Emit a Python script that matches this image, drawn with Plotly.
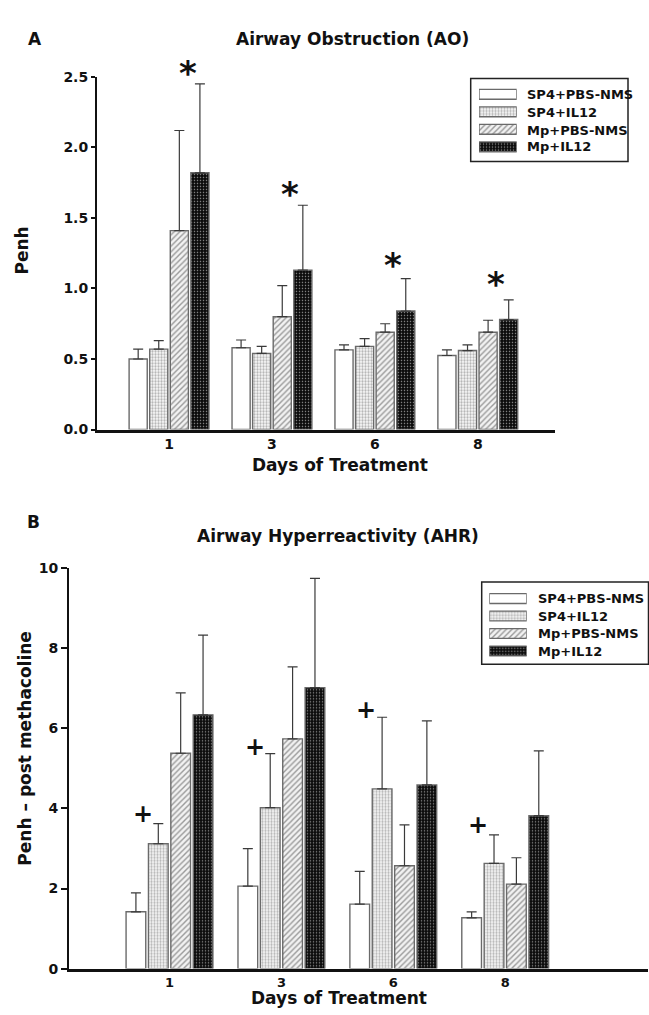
import plotly.graph_objects as go

# ---------------- data ----------------
days = ["1", "3", "6", "8"]
series = ["SP4+PBS-NMS", "SP4+IL12", "Mp+PBS-NMS", "Mp+IL12"]

# Panel A: Airway Obstruction (Penh)
ao_sp4_pbs = [0.50, 0.58, 0.565, 0.525]
ao_sp4_il12 = [0.57, 0.54, 0.59, 0.56]
ao_mp_pbs = [1.41, 0.80, 0.69, 0.69]
ao_mp_il12 = [1.82, 1.13, 0.84, 0.78]
ao_sp4_pbs_err = [0.07, 0.055, 0.035, 0.04]
ao_sp4_il12_err = [0.06, 0.05, 0.055, 0.04]
ao_mp_pbs_err = [0.71, 0.22, 0.06, 0.085]
ao_mp_il12_err = [0.63, 0.46, 0.23, 0.14]

# Panel B: Airway Hyperreactivity (Penh - post methacoline)
ahr_sp4_pbs = [1.42, 2.06, 1.61, 1.27]
ahr_sp4_il12 = [3.12, 4.02, 4.49, 2.63]
ahr_mp_pbs = [5.38, 5.74, 2.57, 2.11]
ahr_mp_il12 = [6.34, 7.02, 4.59, 3.82]
ahr_sp4_pbs_err = [0.47, 0.94, 0.82, 0.15]
ahr_sp4_il12_err = [0.50, 1.35, 1.79, 0.71]
ahr_mp_pbs_err = [1.51, 1.80, 1.02, 0.66]
ahr_mp_il12_err = [1.99, 2.73, 1.60, 1.62]

# significance markers (heights in data units)
ao_star_y = [2.55, 1.69, 1.19, 1.05]
ahr_plus_y = [3.88, 5.57, 6.48, 3.61]

# ---------------- styles ----------------
FONT = "DejaVu Sans"
W, H = 649, 1015
styles = [
    dict(color="white", pattern=dict(shape="")),
    dict(color="white", pattern=dict(shape=".", fgcolor="#b4b4b4", bgcolor="#fafafa",
                                     size=3, solidity=0.45, fillmode="replace")),
    dict(color="#eeeeee", pattern=dict(shape="/", fgcolor="#9a9a9a", bgcolor="#f2f2f2",
                                       size=4, solidity=0.35, fillmode="replace")),
    dict(color="#111111", pattern=dict(shape=".", fgcolor="#8a8a8a", bgcolor="#0c0c0c",
                                       size=3, solidity=0.2, fillmode="replace")),
]
OUTLINE = dict(color="#6a6a6a", width=1.4)

def px_x(p):
    return p / W

def px_y(p):
    return 1 - p / H

A_YDOM = [px_y(428.3), px_y(70)]
A_YRANGE = [0, 2.5]

def a_paper_y(v):
    return A_YDOM[0] + (v - A_YRANGE[0]) / (A_YRANGE[1] - A_YRANGE[0]) * (A_YDOM[1] - A_YDOM[0])

fig = go.Figure()

xs = list(range(len(days)))
panelA = [ao_sp4_pbs, ao_sp4_il12, ao_mp_pbs, ao_mp_il12]
panelA_err = [ao_sp4_pbs_err, ao_sp4_il12_err, ao_mp_pbs_err, ao_mp_il12_err]
panelB = [ahr_sp4_pbs, ahr_sp4_il12, ahr_mp_pbs, ahr_mp_il12]
panelB_err = [ahr_sp4_pbs_err, ahr_sp4_il12_err, ahr_mp_pbs_err, ahr_mp_il12_err]

for i, name in enumerate(series):
    st = styles[i]
    for vals, errs, xa, ya in ((panelA[i], panelA_err[i], "x", "y"),
                               (panelB[i], panelB_err[i], "x2", "y2")):
        fig.add_trace(go.Bar(
            x=xs, y=vals, name=name, showlegend=False,
            xaxis=xa, yaxis=ya,
            marker=dict(color=st["color"], pattern=st["pattern"], line=OUTLINE),
            error_y=dict(type="data", symmetric=False, array=errs,
                         arrayminus=[0] * len(errs), color="#3a3a3a",
                         thickness=1.2, width=5),
        ))

# legend swatches drawn as horizontal bars on small helper axes
for i, name in enumerate(series):
    st = styles[i]
    for xa, ya in (("x3", "y3"), ("x4", "y4")):
        fig.add_trace(go.Bar(
            x=[1], y=[i], orientation="h", base=0, width=0.56, offset=-0.28,
            xaxis=xa, yaxis=ya, showlegend=False, hoverinfo="skip",
            marker=dict(color=st["color"], pattern=st["pattern"], line=OUTLINE),
        ))

tickfont = dict(family=FONT, size=14, color="#111", weight="bold")
axis_common = dict(showline=True, linecolor="#111", showgrid=False, zeroline=False,
                   tickfont=tickfont)

fig.update_layout(
    width=W, height=H,
    margin=dict(l=0, r=0, t=0, b=0),
    paper_bgcolor="white", plot_bgcolor="white",
    barmode="group", bargap=0.2, bargroupgap=0.12,
    showlegend=False,
    xaxis=dict(axis_common, domain=[px_x(97), px_x(555)], range=[-0.70, 3.75],
               tickvals=xs, ticktext=days, ticks="", linewidth=2.5,
               anchor="y"),
    yaxis=dict(axis_common, domain=A_YDOM, range=A_YRANGE,
               tickvals=[0, 0.5, 1.0, 1.5, 2.0, 2.5], tickformat=".1f",
               ticks="outside", ticklen=4, tickwidth=1.5, tickcolor="#111",
               linewidth=2, anchor="x"),
    xaxis2=dict(axis_common, domain=[px_x(69), px_x(648)], range=[-0.898, 4.276],
                tickvals=xs, ticktext=days, ticks="", linewidth=2.5,
                tickfont=dict(family=FONT, size=13, color="#111", weight="bold"),
                anchor="y2"),
    yaxis2=dict(axis_common, domain=[px_y(976), px_y(569.3)], range=[0, 10],
                tickvals=[0, 2, 4, 6, 8, 10],
                ticks="outside", ticklen=6, tickwidth=1.5, tickcolor="#111",
                linewidth=2, anchor="x2"),
    xaxis3=dict(domain=[px_x(479), px_x(516.7)], range=[0, 1], visible=False,
                anchor="y3"),
    yaxis3=dict(domain=[px_y(149.9), px_y(78.8)], range=[3.5, -0.5], visible=False,
                anchor="x3"),
    xaxis4=dict(domain=[px_x(489.3), px_x(526.7)], range=[0, 1], visible=False,
                anchor="y4"),
    yaxis4=dict(domain=[px_y(662.2), px_y(591.1)], range=[3.5, -0.5], visible=False,
                anchor="x4"),
)

ann = []

def text(x, y, s, size=17, angle=0, xanchor="center", xref="paper", yref="paper",
         yshift=0):
    ann.append(dict(x=x, y=y, xref=xref, yref=yref, text=s, showarrow=False,
                    xanchor=xanchor, yanchor="middle", textangle=angle,
                    yshift=yshift,
                    font=dict(family=FONT, size=size, color="#111", weight="bold")))

# panel letters and titles
text(px_x(35), px_y(31), "A")
text(px_x(352.5), px_y(31.7), "Airway Obstruction (AO)")
text(px_x(33), px_y(522), "B")
text(px_x(337.5), px_y(536.7), "Airway Hyperreactivity (AHR)")
# axis titles
text(px_x(21.7), px_y(246.7), "Penh", angle=-90)
text(px_x(25), px_y(752.5), "Penh – post methacoline", angle=-90)
text(px_x(340), px_y(464), "Days of Treatment")
text(px_x(339), px_y(1006), "Days of Treatment")

# significance markers
for i, yv in enumerate(ao_star_y):
    text(i + 0.18, a_paper_y(yv), "*", size=34, xref="x", yref="paper", yshift=-3)
for i, yv in enumerate(ahr_plus_y):
    text(i - 0.24, yv, "+", size=24, xref="x2", yref="y2", yshift=-1)

# legend texts
rowsA = [87.7, 106, 124, 141]
rowsB = [600, 618.3, 636, 653.3]
for i, name in enumerate(series):
    text(px_x(525), px_y(rowsA[i]), name, size=13, xanchor="left")
    text(px_x(536), px_y(rowsB[i]), name, size=13, xanchor="left")

fig.update_layout(annotations=ann)

# legend frames
fig.add_shape(type="rect", xref="paper", yref="paper",
              x0=px_x(470.7), x1=px_x(628), y0=px_y(156), y1=px_y(71.7),
              line=dict(color="#222", width=1.5), fillcolor="rgba(0,0,0,0)")
fig.add_shape(type="rect", xref="paper", yref="paper",
              x0=px_x(481.7), x1=px_x(648.5), y0=px_y(666.7), y1=px_y(583.3),
              line=dict(color="#222", width=1.5), fillcolor="rgba(0,0,0,0)")

fig.write_html(
    "out.html",
    config={"displayModeBar": False},
    post_script="document.body.style.margin='0';document.body.style.overflow='hidden';",
)
